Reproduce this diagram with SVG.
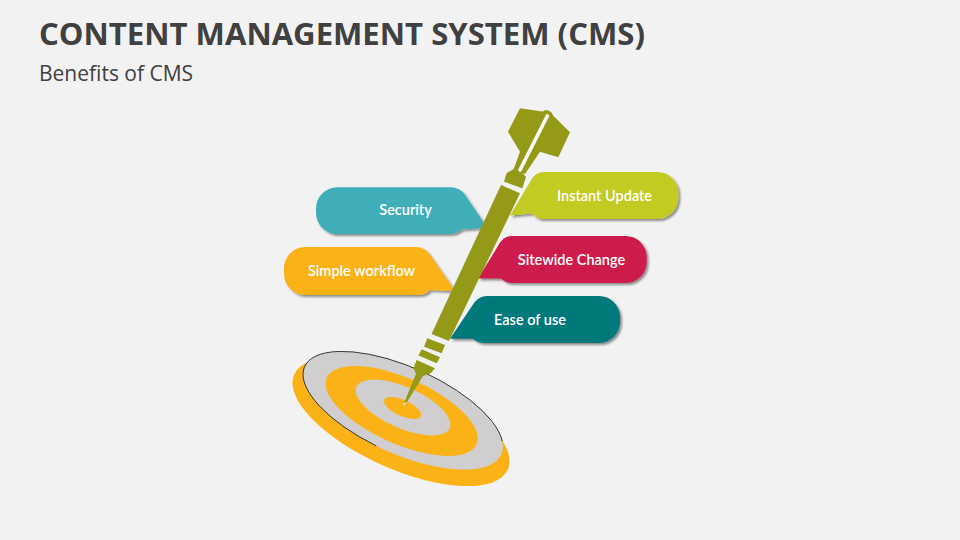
<svg xmlns="http://www.w3.org/2000/svg" width="960" height="540" viewBox="0 0 960 540">
<defs>
<filter id="sh" x="-10%" y="-20%" width="125%" height="150%"><feDropShadow dx="2" dy="2" stdDeviation="1.2" flood-color="#000" flood-opacity="0.42"/></filter>
</defs>
<style>
.t{font-family:"Open Sans","Liberation Sans",sans-serif;fill:#404040}
.l{font-family:Lato,"Liberation Sans",sans-serif;font-weight:600;font-size:14.5px;fill:#fff;text-anchor:middle}
.b{filter:url(#sh)}
.o{fill:#949a18}
.y{fill:#fbb216}
.g{fill:#d0cece}
</style>
<rect width="960" height="540" fill="#f2f2f2"/>
<text class="t" x="39" y="45" font-size="31.100" font-weight="700">CONTENT MANAGEMENT SYSTEM (CMS)</text>
<text class="t" x="39" y="81" font-size="21">Benefits of CMS</text>
<g id="target">
<g transform="translate(401 422) rotate(24)"><ellipse class="y" rx="117" ry="47"/></g>
<g transform="translate(403 410.5) rotate(24)"><ellipse class="g" rx="107.7" ry="43.4"/><path d="M-10 43.2A107.7 43.4 0 1 1 103.4 -12.1" fill="none" stroke="#222" stroke-width="0.8"/></g>
<g transform="translate(401.7 411) rotate(24)"><ellipse class="y" rx="82" ry="33"/></g>
<g transform="translate(403 407.5) rotate(24)"><ellipse class="g" rx="51" ry="20.6"/></g>
<g transform="translate(402.5 408) rotate(24)"><ellipse class="y" rx="20" ry="8"/></g>
</g>
<g id="security"><path class="b" fill="#3faeb9" d="M337 187.3H450Q460 187.3 465 195L483 221.5V228L461 229.5Q457 234 448 234H337A21 21 0 0 1 316 213V208.300A21 21 0 0 1 337 187.3Z"/><text class="l" x="405.500" y="215">Security</text></g>
<g id="simple-workflow"><path class="b" fill="#fbb216" d="M305 247H416Q425 247 430 255L453.500 288.500L451.500 291L430 290Q426 295 418 295H305A21 21 0 0 1 284 274V268A21 21 0 0 1 305 247Z"/><text class="l" x="361.500" y="276">Simple workflow</text></g>
<g id="instant-update"><path class="b" fill="#c2cb20" d="M543 172H657.300A21 21 0 0 1 678.300 193V198A21 21 0 0 1 657.300 219H543Q537 219 532 213.500L510 215.500L530 182Q535 172 543 172Z"/><text class="l" x="604.500" y="201">Instant Update</text></g>
<g id="sitewide-change"><path class="b" fill="#cd1b4b" d="M511 236H625.700A21 21 0 0 1 646.700 257V262A21 21 0 0 1 625.700 283H512Q506 283 501 278.500L478 278.500L498 246Q503 236 511 236Z"/><text class="l" x="571.500" y="265">Sitewide Change</text></g>
<g id="ease-of-use"><path class="b" fill="#00797d" d="M486 296H599A21 21 0 0 1 620 317V322A21 21 0 0 1 599 343H484Q478 343 473 338.700L450 338.700L472 306Q478 296 486 296Z"/><text class="l" x="530" y="325">Ease of use</text></g>
<g id="dart">
<path class="o" d="M520 108.300L542.500 111.500Q547 108 551.500 112.500L553.500 116L570 132.300L558.300 157.300L540 151.700L525 174L513.300 170L520 151.700L508 131.700Z"/>
<path class="o" d="M504 181.700L506.700 173L513 169.500L520 170L526 177L522.300 188.300Z"/>
<path class="o" d="M501 185L520 193.300L449 341L431.500 334Z"/>
<path class="o" d="M427.300 338.300L445 345L441.700 353.300L424 346.700Z"/>
<path class="o" d="M421.700 349.300L440 357.300L436.700 363.300L418.500 355.500Z"/>
<path class="o" d="M416.700 360L435 368.300L430.700 373.300L423 376L407 402L404 403L416 374L413.500 368Z"/>
<path d="M404.500 402.500L402.700 407L407 402.500Z" fill="#e6e6d8"/>
<path d="M547.300 116L520 170" stroke="#fff" stroke-width="3.600" stroke-linecap="round" fill="none"/>
</g>
</svg>
